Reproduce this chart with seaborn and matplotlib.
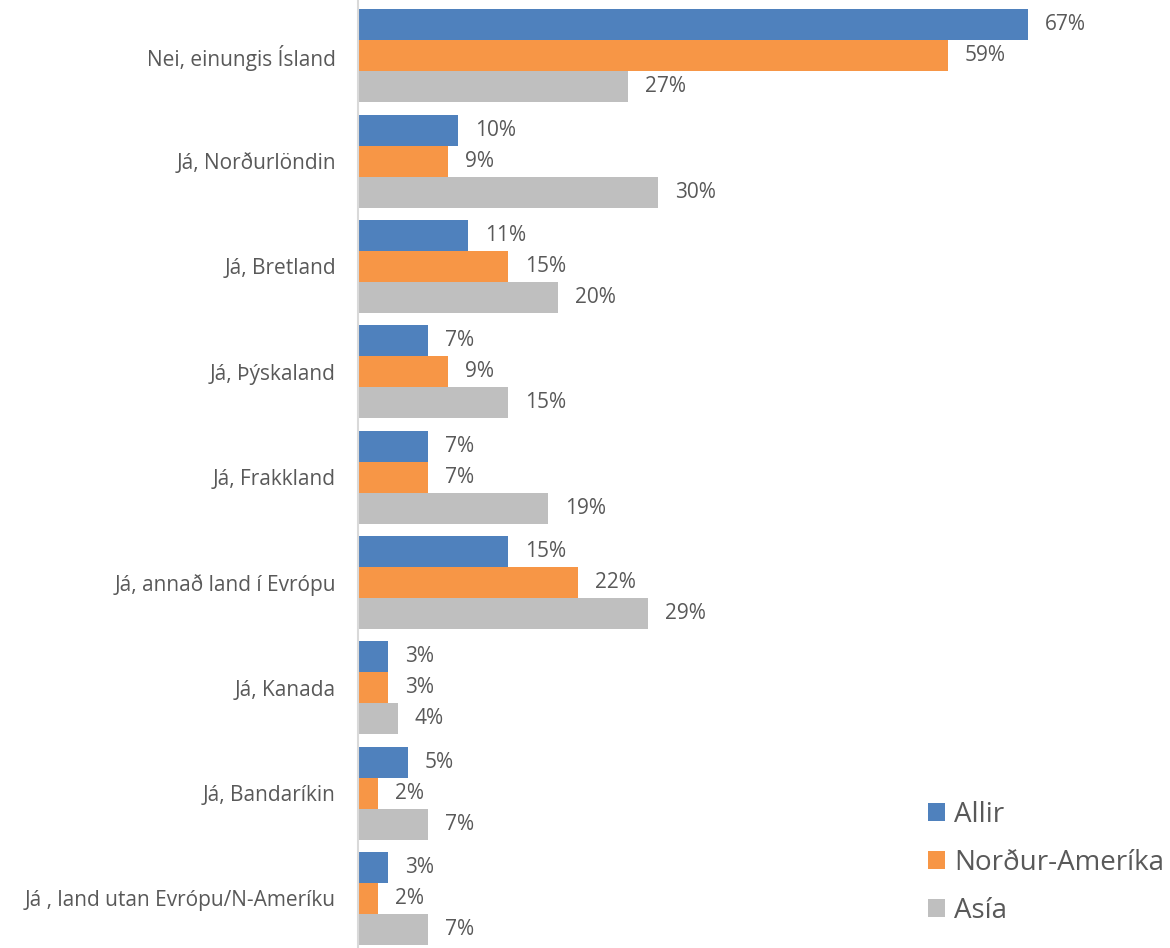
import matplotlib
matplotlib.use("Agg")
import matplotlib.pyplot as plt
import seaborn as sns
import pandas as pd
from matplotlib.patches import Patch

categories = [
    "Nei, einungis Ísland",
    "Já, Norðurlöndin",
    "Já, Bretland",
    "Já, Þýskaland",
    "Já, Frakkland",
    "Já, annað land í Evrópu",
    "Já, Kanada",
    "Já, Bandaríkin",
    "Já , land utan Evrópu/N-Ameríku",
]
series = ["Allir", "Norður-Ameríka", "Asía"]
allir = [67, 10, 11, 7, 7, 15, 3, 5, 3]
nordur_amerika = [59, 9, 15, 9, 7, 22, 3, 2, 2]
asia = [27, 30, 20, 15, 19, 29, 4, 7, 7]
colors = ["#4F81BD", "#F79646", "#BFBFBF"]

rows = []
for s, vals in zip(series, [allir, nordur_amerika, asia]):
    for c, v in zip(categories, vals):
        rows.append({"category": c, "series": s, "value": v})
df = pd.DataFrame(rows)

sns.set_style("white")
plt.rcParams["font.family"] = ["Open Sans", "DejaVu Sans"]
text_color = "#595959"

fig = plt.figure(figsize=(11.7, 9.48), dpi=100)
ax = fig.add_axes([358 / 1170, 0.0, (1170 - 358) / 1170, 1.0])

sns.barplot(data=df, x="value", y="category", hue="series", order=categories,
            hue_order=series, palette=colors, saturation=1, width=0.88,
            errorbar=None, orient="h", ax=ax, legend=False, linewidth=0)

for cont in ax.containers:
    ax.bar_label(cont, fmt="{:.0f}%", padding=12, fontsize=15, color=text_color)

ax.set_xlim(0, 81.2)
ax.set_ylim(len(categories) - 0.53, -0.53)
ax.set_xlabel("")
ax.set_ylabel("")
ax.set_xticks([])
ax.tick_params(axis="y", length=0, pad=16, labelsize=15, labelcolor=text_color)
for side in ["top", "right", "bottom"]:
    ax.spines[side].set_visible(False)
ax.spines["left"].set_color("#D9D9D9")
ax.spines["left"].set_linewidth(1.5)

handles = [Patch(facecolor=c, edgecolor="none") for c in colors]
fig.legend(handles, series, loc="upper left", bbox_to_anchor=(928 / 1170, 1 - 801 / 948),
           frameon=False, fontsize=20, handlelength=0.6, handleheight=0.6,
           handletextpad=0.35, labelspacing=0.72, borderpad=0, borderaxespad=0,
           labelcolor=text_color)

fig.savefig("out.png", dpi=100)
